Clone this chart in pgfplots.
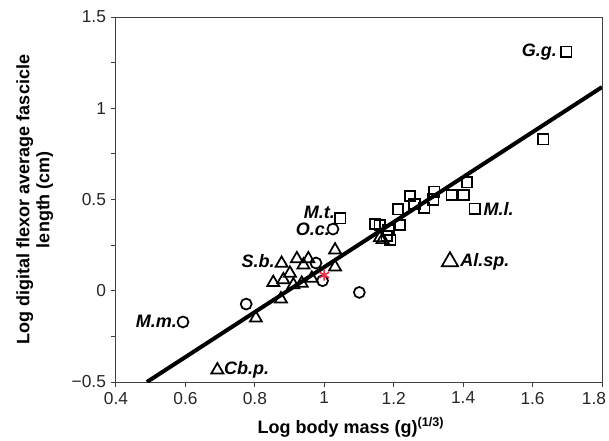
\documentclass[border=0pt]{standalone}
\usepackage{fontspec}
\setmainfont{Liberation Sans}
\usepackage{pgfplots}
\pgfplotsset{compat=1.18}
\definecolor{starred}{HTML}{E8304A}
\begin{document}
\begin{tikzpicture}
\begin{axis}[
  scale only axis, width=364.5pt, height=273.75pt,
  xmin=0.4, xmax=1.8, ymin=-0.5, ymax=1.5,
  xtick={0.4,0.6,0.8,1,1.2,1.4,1.6},
  xticklabels={0.4,0.6,0.8,1,1.2,1.4,1.6},
  extra x ticks={1.8},
  extra x tick labels={1.8},
  extra x tick style={xticklabel style={xshift=-6pt}},
  ytick={-0.5,0,0.5,1,1.5},
  yticklabels={−0.5,0,0.5,1,1.5},
  minor ytick={-0.25,0.25,0.75,1.25},
  axis line style={line width=0.75pt, black!75},
  tick style={line width=0.75pt, black!75},
  tick align=outside, major tick length=4pt, minor tick length=4pt,
  xtick pos=bottom, ytick pos=left,
  ticklabel style={font=\fontsize{13}{15}\selectfont, text=black!85},
  xlabel={Log body mass (g)\textsuperscript{(1/3)}},
  ylabel={Log digital flexor average fascicle\\length (cm)},
  xlabel style={at={([xshift=-6pt,yshift=-38.25pt]rel axis cs:0.5,0)}, anchor=base, inner sep=0pt,
    font=\bfseries\fontsize{13.5}{15}\selectfont},
  ylabel style={at={([xshift=-47pt]rel axis cs:0,0.5)}, anchor=south, inner sep=0pt,
    align=center, font=\bfseries\fontsize{13.5}{15}\selectfont},
]
\coordinate (bl) at (rel axis cs:0,0);
\coordinate (tr) at (rel axis cs:1,1);
% regression line
\addplot[line width=3pt, black] coordinates {(0.489,-0.5) (1.8,1.116)};
% circles
\addplot[only marks, mark=o, mark size=4.1pt, line width=1.3pt, black] coordinates {
 (0.593,-0.171) (0.775,-0.073) (1.025,0.338) (0.976,0.152) (0.995,0.055) (1.101,-0.009)
};
% squares
\addplot[only marks, mark=square, mark size=3.9pt, line width=1.3pt, black] coordinates {
 (1.046,0.397) (1.146,0.365) (1.160,0.36) (1.185,0.333) (1.19,0.278) (1.18,0.30)
 (1.218,0.36) (1.212,0.447) (1.247,0.52) (1.260,0.475) (1.288,0.455) (1.314,0.50)
 (1.317,0.543) (1.367,0.525) (1.401,0.525) (1.411,0.595) (1.433,0.449)
 (1.631,0.83) (1.697,1.31)
};
% triangles
\addplot[only marks, mark=triangle, mark size=5.2pt, line width=1.3pt, black] coordinates {
 (0.692,-0.434) (0.803,-0.150) (0.875,-0.045) (0.853,0.045) (0.877,0.150)
 (0.882,0.060) (0.901,0.096) (0.911,0.032) (0.921,0.175) (0.935,0.041)
 (0.940,0.141) (0.954,0.175) (0.964,0.068) (1.031,0.223) (1.031,0.130)
 (1.160,0.29) (1.168,0.28)
};
\addplot[only marks, mark=triangle, mark size=7pt, line width=1.3pt, black] coordinates {
 (1.362,0.16)
};
% star
\addplot[only marks, mark=asterisk, mark size=4.2pt, line width=1.2pt, starred] coordinates {
 (1.0,0.086)
};
\begin{scope}[every node/.style={font=\bfseries\itshape\fontsize{13.5}{15}\selectfont, inner sep=0pt}]
\node[anchor=east] at (axis cs:1.671,1.31) {G.g.};
\node[anchor=west] at (axis cs:1.458,0.448) {M.l.};
\node[anchor=east] at (axis cs:1.031,0.432) {M.t.};
\node[anchor=east] at (axis cs:1.017,0.337) {O.c.};
\node[anchor=east] at (axis cs:0.858,0.163) {S.b.};
\node[anchor=east] at (axis cs:0.576,-0.170) {M.m.};
\node[anchor=west] at (axis cs:0.711,-0.434) {Cb.p.};
\node[anchor=west] at (axis cs:1.391,0.159) {Al.sp.};
\end{scope}
\end{axis}
\pgfresetboundingbox
\path ([shift={(-87pt,-43.5pt)}]bl) rectangle ([shift={(5.25pt,12.75pt)}]tr);
\end{tikzpicture}
\end{document}
